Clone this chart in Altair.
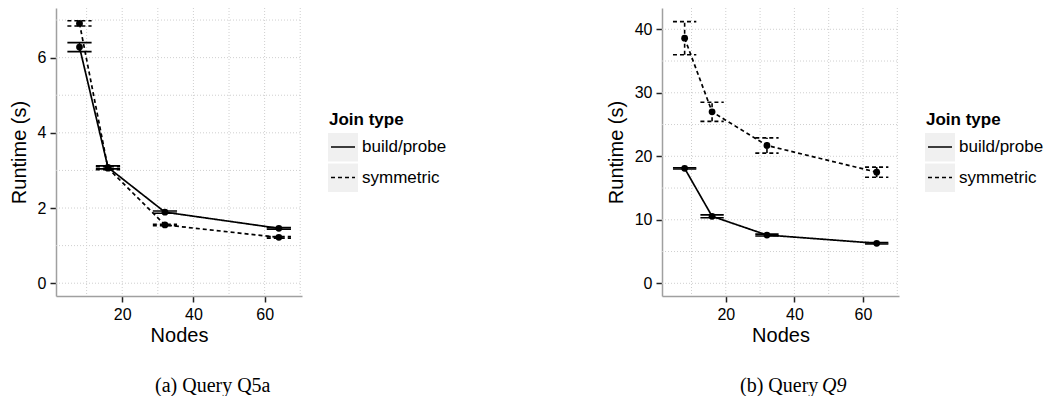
import altair as alt
import pandas as pd

# Cluster sizes and the two join strategies
nodes = [8, 16, 32, 64]
join_types = ["build/probe", "symmetric"]

# Query Q5a: mean runtime (s) and error half-range per node count
q5a_build_runtime = [6.28, 3.08, 1.89, 1.46]
q5a_build_err = [0.12, 0.04, 0.03, 0.02]
q5a_sym_runtime = [6.91, 3.06, 1.55, 1.22]
q5a_sym_err = [0.07, 0.04, 0.02, 0.02]

# Query Q9
q9_build_runtime = [18.1, 10.55, 7.6, 6.3]
q9_build_err = [0.1, 0.22, 0.15, 0.1]
q9_sym_runtime = [38.6, 27.0, 21.7, 17.5]
q9_sym_err = [2.6, 1.5, 1.2, 0.8]

# Axis ticks and minor grid positions
x_ticks = [20, 40, 60]
x_minor = [10, 30, 50, 70]
q5a_y_ticks = [0, 2, 4, 6]
q5a_y_minor = [1, 3, 5, 7]
q9_y_ticks = [0, 10, 20, 30, 40]
q9_y_minor = [5, 15, 25, 35]

ERR_HALF_WIDTH = 3.4
X_DOMAIN = [1.4, 70.5]
PLOT_H = 288
SANS = "Liberation Sans"
SERIF = "Liberation Serif"

dash_scale = alt.Scale(domain=join_types, range=[[1, 0], [4, 3]])


def build_frame(build_rt, build_err, sym_rt, sym_err):
    rows = []
    for jt, rts, errs in ((join_types[0], build_rt, build_err),
                          (join_types[1], sym_rt, sym_err)):
        for n, rt, e in zip(nodes, rts, errs):
            rows.append({"nodes": n, "runtime": rt, "lo": rt - e, "hi": rt + e,
                         "xlo": n - ERR_HALF_WIDTH, "xhi": n + ERR_HALF_WIDTH,
                         "join": jt})
    return pd.DataFrame(rows)


def panel(df, y_domain, y_ticks, y_minor, width, caption):
    x_scale = alt.Scale(domain=X_DOMAIN, nice=False, zero=False)
    y_scale = alt.Scale(domain=y_domain, nice=False, zero=False)
    x_axis = alt.Axis(values=x_ticks, title="Nodes", grid=False, titlePadding=3)
    y_axis = alt.Axis(values=y_ticks, title="Runtime (s)", grid=False)

    def X(field):
        return alt.X(field, type="quantitative", scale=x_scale, axis=x_axis)

    def Y(field):
        return alt.Y(field, type="quantitative", scale=y_scale, axis=y_axis)

    dash = alt.StrokeDash("join:N", scale=dash_scale, legend=None)

    vgrid = alt.Chart(pd.DataFrame({"pos": x_ticks + x_minor})).mark_rule(
        color="#cfcfcf", strokeDash=[1, 2], strokeWidth=1
    ).encode(x=X("pos"), y=alt.value(0), y2=alt.value(PLOT_H))
    hgrid = alt.Chart(pd.DataFrame({"pos": y_ticks + y_minor})).mark_rule(
        color="#cfcfcf", strokeDash=[1, 2], strokeWidth=1
    ).encode(y=Y("pos"), x=alt.value(0), x2=alt.value(width))

    base = alt.Chart(df)
    rule_style = dict(color="black", strokeWidth=1.6)
    cap_hi = base.mark_rule(**rule_style).encode(x=X("xlo"), x2="xhi", y=Y("hi"), strokeDash=dash)
    cap_lo = base.mark_rule(**rule_style).encode(x=X("xlo"), x2="xhi", y=Y("lo"), strokeDash=dash)
    stem = base.mark_rule(**rule_style).encode(x=X("nodes"), y=Y("lo"), y2="hi", strokeDash=dash)
    lines = base.mark_line(color="black", strokeWidth=1.7).encode(
        x=X("nodes"), y=Y("runtime"), strokeDash=dash, detail="join:N")
    points = base.mark_circle(color="black", size=46, opacity=1).encode(
        x=X("nodes"), y=Y("runtime"))

    layers = [vgrid, hgrid, cap_hi, cap_lo, stem, lines, points]

    # Legend: title, grey key boxes with line samples, labels
    lx = width + 26
    layers.append(
        alt.Chart(pd.DataFrame({"t": ["Join type"]})).mark_text(
            align="left", baseline="middle", font=SANS, fontSize=17,
            fontWeight="bold", color="black"
        ).encode(text="t:N", x=alt.value(lx + 1), y=alt.value(112))
    )
    for i, jt in enumerate(join_types):
        top = 125 + i * 30.5
        row = pd.DataFrame({"join": [jt]})
        layers.append(alt.Chart(row).mark_rect(color="#f0f0f0").encode(
            x=alt.value(lx), x2=alt.value(lx + 30),
            y=alt.value(top), y2=alt.value(top + 28.5)))
        layers.append(alt.Chart(row).mark_rule(color="black", strokeWidth=1.7).encode(
            x=alt.value(lx + 3), x2=alt.value(lx + 27),
            y=alt.value(top + 14), strokeDash=dash))
        layers.append(alt.Chart(row).mark_text(
            align="left", baseline="middle", font=SANS, fontSize=17, color="black"
        ).encode(text="join:N", x=alt.value(lx + 34), y=alt.value(top + 14)))

    # Sub-figure caption in serif type
    for part in caption:
        layers.append(alt.Chart(pd.DataFrame({"t": [part["text"]]})).mark_text(
            align="left", baseline="alphabetic", font=SERIF, fontSize=20,
            fontStyle=part.get("style", "normal"), color="black"
        ).encode(text="t:N", x=alt.value(part["x"]), y=alt.value(384)))

    return alt.layer(*layers).properties(width=width, height=PLOT_H)


q5a = build_frame(q5a_build_runtime, q5a_build_err, q5a_sym_runtime, q5a_sym_err)
q9 = build_frame(q9_build_runtime, q9_build_err, q9_sym_runtime, q9_sym_err)

left = panel(q5a, [-0.34, 7.32], q5a_y_ticks, q5a_y_minor, 246,
             [{"text": "(a) Query Q5a", "x": 99}])
right = panel(q9, [-2.0, 43.35], q9_y_ticks, q9_y_minor, 237,
              [{"text": "(b) Query", "x": 78}, {"text": "Q9", "x": 160, "style": "italic"}])

chart = alt.hconcat(left, right, spacing=159).properties(
    padding={"left": 9, "top": 7, "right": 0, "bottom": 0}
).configure_view(stroke=None).configure_axis(
    domainColor="#a0a0a0", domainWidth=1.5, tickColor="#222222", tickWidth=1.5,
    tickSize=6, labelPadding=4, labelFont=SANS, labelFontSize=16, labelColor="black",
    titleFont=SANS, titleFontSize=20, titleFontWeight="normal", titleColor="black",
    titlePadding=8
).configure_concat(spacing=159)

chart.save("out.html", embed_options={"renderer": "svg", "actions": False})
